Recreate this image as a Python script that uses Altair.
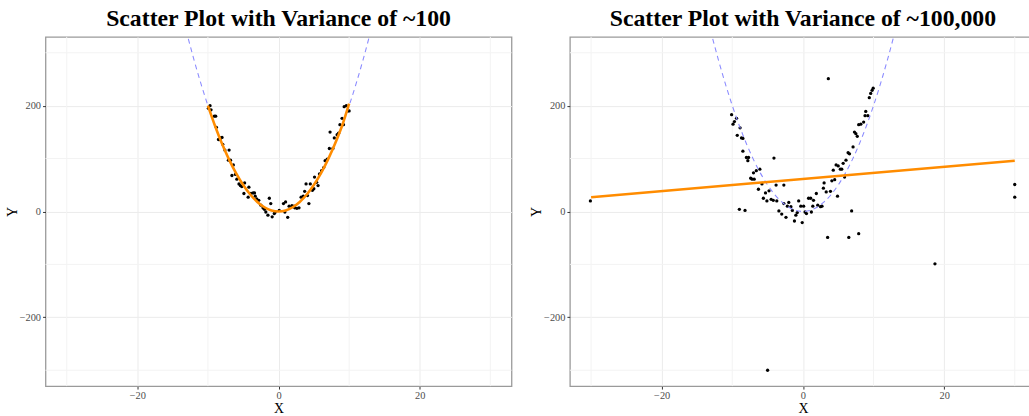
import altair as alt
import pandas as pd

# ---- data ----
# left panel: variance ~100
x1 = [-9.93, -9.7, -9.56, -9.1, -8.9, -8.8, -8.5, -8.3, -8.2, -8.0, -7.9, -7.6, -7.0, -7.1, -6.8,
      -6.4, -6.6, -6.1, -5.9, -5.6, -5.4, -5.2, -4.9, -4.8, -4.3, -4.2, -3.9, -3.6, -3.4, -3.3,
      -3.1, -2.8, -2.5, -2.2, -2.0, -1.8, -1.5, -1.3, -1.1, -0.9, -0.6, -0.5, 0.1, 0.7, 1.0,
      0.9, 1.3, 1.5, 1.9, 2.2, 2.3, 2.6, 2.9, 3.2, 3.5, 3.7, 3.9, 4.1, 4.3, 4.5,
      4.8, 5.0, 5.1, 5.4, 5.6, 5.8, 6.1, 6.4, 6.6, 6.9, 7.3, 7.2, 7.7, 7.9, 8.3,
      8.5, 8.7, 9.0, 9.2, 9.3, 9.6, 9.8, 10.0]
y1 = [195, 200, 192, 180, 180, 159, 136, 136, 139, 140, 127, 116, 116, 97, 97,
      88, 68, 70, 61, 52, 49, 47, 34, 54, 27, 46, 34, 35, 35, 29,
      24, 21, 12, 7, 4, -1, -7, 25, 15, -10, -4, -2, 2, 15, 18,
      -1, -11, 10, 11, 10, 7, 6, 7, 27, 29, 38, 52, 30, 15, 52,
      40, 43, 65, 55, 49, 71, 77, 83, 96, 99, 150, 119, 119, 139, 145,
      148, 164, 176, 164, 198, 200, 190, 190]
fit1_x = [-10, -9, -8, -7, -6, -5, -4, -3, -2, -1, 0, 1, 2, 3, 4, 5, 6, 7, 8, 9, 10]
fit1_y = [200, 162, 128, 98, 72, 50, 32, 18, 8, 2, 0, 2, 8, 18, 32, 50, 72, 98, 128, 162, 204]

# dashed reference curve (both panels)
curve_x = [-14, -13, -12, -11, -10, -9, -8, -7, -6, -5, -4, -3, -2, -1, 0,
           1, 2, 3, 4, 5, 6, 7, 8, 9, 10, 11, 12, 13, 14]
curve_y = [392, 338, 288, 242, 200, 162, 128, 98, 72, 50, 32, 18, 8, 2, 0,
           2, 8, 18, 32, 50, 72, 98, 128, 162, 200, 242, 288, 338, 392]

# right panel: variance ~100,000
x2 = [-30.1, -10.1, -9.9, -9.7, -9.4, -9.3, -8.9, -8.7, -8.5, -8.5, -8.0, -7.8, -7.7, -7.4, -7.2,
      -6.9, -7.0, -6.6, -6.3, -6.1, -5.8, -5.6, -5.3, -5.1, -4.8, -4.5, -4.2, -4.1, -3.8, -3.7,
      -3.4, -3.0, -2.7, -2.7, -2.4, -2.2, -2.0, -1.7, -1.5, -1.2, -1.0, -0.8, -0.6, -0.3, -0.1,
      0.1, 0.3, 0.5, 0.8, 1.1, 1.2, 1.4, 1.5, 1.9, 2.1, 2.5, 2.7, 2.9, 3.0, 3.3,
      3.5, 3.6, 3.9, 4.1, 4.3, 4.5, 4.7, 4.9, 5.0, 5.3, 5.5, 5.7, 5.9, 6.1, 6.4,
      6.6, 6.5, 6.9, 7.1, 7.3, 7.5, 7.7, 7.9, 7.9, 8.2, 8.6, 8.8, 8.9, 9.2, 9.4,
      9.6, 9.8, 9.95, -9.0, -8.2, -5.0, 18.7, 30.0, 30.0]
y2 = [20, 183, 165, 170, 176, 144, 158, 139, 138, 114, 102, 96, 102, 63, 61,
      61, 73, 77, 42, 80, 52, 25, 35, 20, 39, 23, 21, 101, 50, 20,
      1, -5, 50, 15, -11, 10, 17, 9, 2, -18, -7, -2, 20, 10, -21,
      10, -1, -4, 25, 25, -1, 10, 21, 34, 12, 9, 10, 44, 54, 37,
      -49, 251, 38, 58, 78, 60, 88, 29, 86, 80, 80, 91, 65, 97, 111,
      109, -49, 1, 122, 150, 147, 142, -42, 164, 165, 169, 181, 189, 181, 215,
      223, 229, 233, 4, 2, -300, -99, 51, 27]
fit2_x = [-30, 30]
fit2_y = [27, 96]

# grid values
x_major = [-20, 0, 20]
y_major = [-200, 0, 200]
x_minor = [-30, -10, 10, 30]
y_minor = [-300, -100, 100, 300]

FONT = "Liberation Serif"
XDOM = [-33, 33]
YDOM = [-330, 330]


def xenc(field):
    return alt.X(field, type="quantitative",
                 scale=alt.Scale(domain=XDOM, nice=False, zero=False),
                 axis=alt.Axis(values=x_major, title="X"))


def yenc(field):
    return alt.Y(field, type="quantitative",
                 scale=alt.Scale(domain=YDOM, nice=False, zero=False),
                 axis=alt.Axis(values=y_major, title="Y"))


def panel(px, py, fx, fy, title, interp):
    pts = pd.DataFrame({"x": px, "y": py})
    fit = pd.DataFrame({"x": fx, "y": fy})
    cur = pd.DataFrame({"x": curve_x, "y": curve_y})
    gx = pd.DataFrame({"v": x_minor})
    gy = pd.DataFrame({"v": y_minor})

    minor_x = alt.Chart(gx).mark_rule(color="#F3F3F3", strokeWidth=1).encode(x=xenc("v"))
    minor_y = alt.Chart(gy).mark_rule(color="#F3F3F3", strokeWidth=1).encode(y=yenc("v"))
    points = alt.Chart(pts).mark_circle(color="black", size=11, opacity=1).encode(
        x=xenc("x"), y=yenc("y"))
    curve = alt.Chart(cur).mark_line(color="#8C8CFF", strokeWidth=1.1, strokeDash=[5, 4],
                                     interpolate="monotone", clip=True).encode(
        x=xenc("x"), y=yenc("y"), order="x:Q")
    smooth = alt.Chart(fit).mark_line(color="#FF8C00", strokeWidth=2.6,
                                      interpolate=interp).encode(
        x=xenc("x"), y=yenc("y"), order="x:Q")
    return alt.layer(minor_x, minor_y, points, curve, smooth).properties(
        width=471, height=353,
        title=alt.TitleParams(title, font=FONT, fontSize=24, fontWeight="bold",
                              color="black", anchor="middle", offset=5),
    )


left = panel(x1, y1, fit1_x, fit1_y, "Scatter Plot with Variance of ~100", "monotone")
right = panel(x2, y2, fit2_x, fit2_y, "Scatter Plot with Variance of ~100,000", "linear")

chart = alt.hconcat(left, right, spacing=15).properties(
    padding={"left": 4, "top": 4, "right": -9, "bottom": 0},
    background="white",
).configure_view(
    stroke="#9a9a9a", strokeWidth=1.3
).configure_axis(
    labelFont=FONT, labelFontSize=10.5, labelColor="#4D4D4D",
    titleFont=FONT, titleFontSize=14, titleFontWeight="normal", titleColor="black",
    tickColor="#333333", tickSize=3, labelPadding=2, titlePadding=0,
    domain=False, grid=True, gridColor="#EBEBEB", gridWidth=1,
)

chart.save("out.html", embed_options={"renderer": "svg", "actions": False})
